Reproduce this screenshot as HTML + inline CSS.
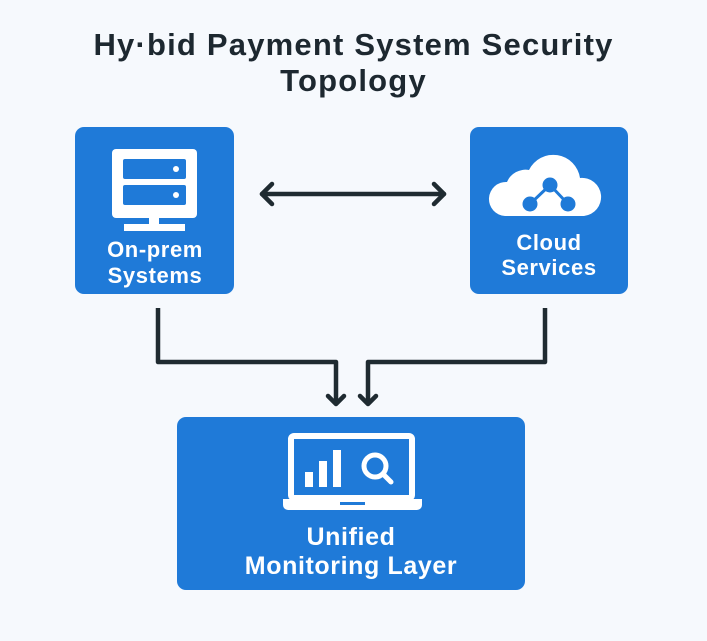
<!DOCTYPE html>
<html><head><style>
body{margin:0;width:707px;height:641px;background:#f6f9fd;font-family:"Liberation Sans",sans-serif;overflow:hidden;position:relative}
.t{position:absolute;left:0;width:707px;text-align:center;font-weight:bold;color:#1d2830;font-size:31px;letter-spacing:1.2px}
</style></head><body>
<div class="t" style="top:27px">Hy·bid Payment System Security</div>
<div class="t" style="top:63px">Topology</div>
<svg width="707" height="641" style="position:absolute;left:0;top:0">
<g fill="#1f7ad8">
<rect x="75" y="127" width="159" height="167" rx="9"/>
<rect x="470" y="127" width="158" height="167" rx="9"/>
<rect x="177" y="417" width="348" height="173" rx="9"/>
</g>
<g stroke="#1f2b31" stroke-width="4.5" fill="none" stroke-linecap="round" stroke-linejoin="round">
<line x1="262" y1="194" x2="444" y2="194"/>
<polyline points="272,184 262,194 272,204"/>
<polyline points="434,184 444,194 434,204"/>
<polyline points="158,308 158,362 336,362 336,404" stroke-linecap="butt"/>
<polyline points="328,396 336,404 344,396"/>
<polyline points="545,308 545,362 368,362 368,404" stroke-linecap="butt"/>
<polyline points="360,396 368,404 376,396"/>
</g>
<g fill="#fff">
<rect x="112" y="149" width="85" height="69" rx="4"/>
<rect x="149" y="218" width="10" height="9"/>
<rect x="124" y="224" width="61" height="7"/>
</g>
<g fill="#1f7ad8">
<rect x="123" y="159" width="63" height="20" rx="2"/>
<rect x="123" y="185" width="63" height="20" rx="2"/>
</g>
<g fill="#fff"><circle cx="176" cy="169" r="3"/><circle cx="176" cy="195" r="3"/></g>
<path d="M505 216 a17 17 0 0 1 2 -34 a20 20 0 0 1 22 -12 a27 27 0 0 1 51 8 a17 17 0 0 1 4 38 z" fill="#fff"/>
<g stroke="#1f7ad8" stroke-width="3" fill="#1f7ad8">
<line x1="550" y1="185" x2="530" y2="204"/><line x1="550" y1="185" x2="568" y2="204"/>
<circle cx="550" cy="185" r="6"/><circle cx="530" cy="204" r="6"/><circle cx="568" cy="204" r="6"/>
</g>
<rect x="291" y="436" width="121" height="62" rx="3" fill="none" stroke="#fff" stroke-width="6"/>
<path d="M283 499 H422 V505 a5 5 0 0 1 -5 5 H288 a5 5 0 0 1 -5 -5 z" fill="#fff"/>
<rect x="340" y="502" width="25" height="3" fill="#1f7ad8"/>
<g fill="#fff"><rect x="305" y="472" width="8" height="15"/><rect x="319" y="461" width="8" height="26"/><rect x="333" y="450" width="8" height="37"/></g>
<circle cx="375" cy="466" r="11" fill="none" stroke="#fff" stroke-width="5"/>
<line x1="383" y1="474" x2="391" y2="482" stroke="#fff" stroke-width="5" stroke-linecap="round"/>
<g fill="#fff" font-family="Liberation Sans,sans-serif" font-size="22" font-weight="bold" letter-spacing="0.6" text-anchor="middle">
<text x="155" y="257">On-prem</text><text x="155" y="283">Systems</text>
<text x="549" y="250">Cloud</text><text x="549" y="275">Services</text>
<text x="351" y="545" font-size="25">Unified</text><text x="351" y="574" font-size="25">Monitoring Layer</text>
</g>
</svg>
</body></html>
